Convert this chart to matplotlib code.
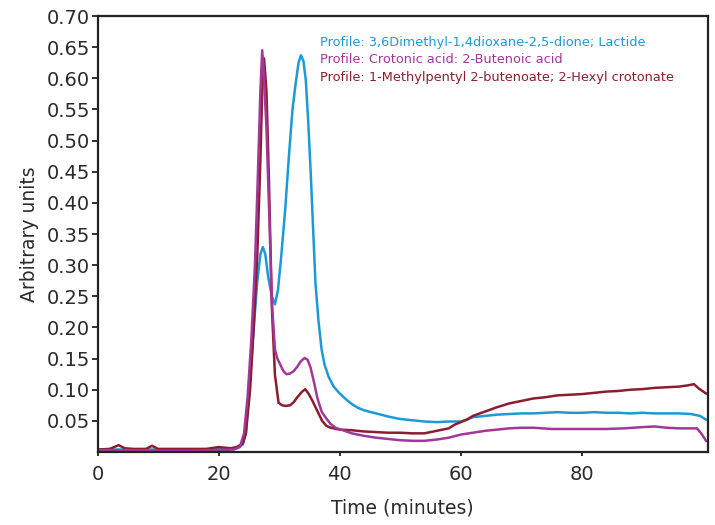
import matplotlib
matplotlib.use("Agg")
import matplotlib.pyplot as plt

plt.rcParams['font.family'] = ['DejaVu Sans']

# Lactide (blue)
t_lac = [0, 5, 10, 15, 20, 23, 24, 24.5, 25.2, 25.8, 26.4, 26.9, 27.3, 27.7, 28.2,
         28.8, 29.3, 29.8, 30.3, 31.0, 31.6, 32.2, 32.7, 33.2, 33.6, 34.0, 34.4, 34.8,
         35.2, 35.6, 36.0, 36.5, 37.0, 37.5, 38.2, 39.0, 40.0, 41.0, 42.0, 43.0, 44.0,
         46, 48, 50, 52, 54, 56, 58, 60, 61, 62, 64, 66, 68, 70, 72, 74, 76, 78, 80,
         82, 84, 86, 88, 90, 92, 94, 96, 98, 99.5, 100.5]
v_lac = [0.004, 0.004, 0.004, 0.004, 0.005, 0.006, 0.012, 0.03, 0.12, 0.2, 0.275,
         0.318, 0.329, 0.318, 0.28, 0.25, 0.237, 0.26, 0.31, 0.39, 0.474, 0.55, 0.59,
         0.625, 0.637, 0.628, 0.597, 0.53, 0.45, 0.36, 0.27, 0.21, 0.165, 0.14, 0.12,
         0.105, 0.094, 0.085, 0.077, 0.071, 0.067, 0.062, 0.057, 0.053, 0.051, 0.049,
         0.048, 0.049, 0.049, 0.052, 0.056, 0.058, 0.060, 0.061, 0.062, 0.062, 0.063,
         0.064, 0.063, 0.063, 0.064, 0.063, 0.063, 0.062, 0.063, 0.062, 0.062, 0.062,
         0.061, 0.058, 0.052]

# Crotonic acid (magenta)
t_cro = [0, 5, 10, 15, 20, 22.5, 23.5, 24.2, 24.8, 25.4, 26.0, 26.5, 26.9, 27.2, 27.5,
         27.9, 28.3, 28.8, 29.3, 29.7, 30.2, 30.7, 31.2, 31.8, 32.4, 33.0, 33.6, 34.2,
         34.7, 35.2, 35.8, 36.3, 37.0, 37.7, 38.5, 39.3, 40.5, 42, 44, 46, 48, 50, 52,
         54, 56, 58, 60, 62, 64, 66, 68, 70, 72, 75, 78, 81, 84, 87, 90, 92, 94, 96,
         98, 99, 99.7, 100.5]
v_cro = [0.003, 0.003, 0.002, 0.002, 0.003, 0.004, 0.008, 0.03, 0.09, 0.18, 0.30,
         0.45, 0.58, 0.645, 0.60, 0.52, 0.40, 0.24, 0.165, 0.15, 0.14, 0.13, 0.125,
         0.126, 0.13, 0.137, 0.146, 0.151, 0.148, 0.135, 0.11, 0.087, 0.065, 0.055,
         0.045, 0.039, 0.035, 0.030, 0.026, 0.023, 0.021, 0.019, 0.018, 0.018, 0.020,
         0.023, 0.028, 0.031, 0.034, 0.036, 0.038, 0.039, 0.039, 0.037, 0.037, 0.037,
         0.037, 0.038, 0.040, 0.041, 0.039, 0.038, 0.038, 0.038, 0.030, 0.018]

# Hexyl crotonate (dark red)
t_hex = [0, 2, 3.5, 4.5, 6, 8, 9, 10, 12, 15, 18, 20, 22, 23, 24, 24.5, 25.2, 25.8,
         26.4, 26.9, 27.2, 27.5, 27.9, 28.3, 28.8, 29.3, 29.9, 30.5, 31.1, 31.8, 32.4,
         33.0, 33.7, 34.3, 34.9, 35.5, 36.3, 37.1, 37.8, 38.5, 40, 42, 44, 46, 48, 50,
         52, 54, 56, 58, 59, 60, 61, 62, 64, 66, 68, 70, 72, 74, 76, 78, 80, 82, 84,
         86, 88, 90, 92, 94, 96, 97.5, 98.5, 99.3, 100.5]
v_hex = [0.004, 0.005, 0.011, 0.006, 0.005, 0.005, 0.010, 0.005, 0.005, 0.005, 0.005,
         0.008, 0.006, 0.008, 0.014, 0.03, 0.10, 0.20, 0.32, 0.47, 0.58, 0.632, 0.58,
         0.44, 0.23, 0.124, 0.079, 0.075, 0.074, 0.075, 0.080, 0.088, 0.096, 0.101,
         0.093, 0.082, 0.066, 0.050, 0.042, 0.039, 0.036, 0.035, 0.033, 0.032, 0.031,
         0.031, 0.030, 0.030, 0.034, 0.038, 0.044, 0.048, 0.052, 0.058, 0.065, 0.072,
         0.078, 0.082, 0.086, 0.088, 0.091, 0.092, 0.093, 0.095, 0.097, 0.098, 0.100,
         0.101, 0.103, 0.104, 0.105, 0.107, 0.109, 0.102, 0.094]

labels = ["Profile: 3,6Dimethyl-1,4dioxane-2,5-dione; Lactide",
          "Profile: Crotonic acid: 2-Butenoic acid",
          "Profile: 1-Methylpentyl 2-butenoate; 2-Hexyl crotonate"]
colors = ["#1c9ad6", "#a2379b", "#8c1d2e"]

fig = plt.figure(figsize=(7.15, 5.25), dpi=100)
ax = fig.add_axes([0.1364, 0.139, 0.8536, 0.8305])

ax.plot(t_lac, v_lac, color=colors[0], lw=1.8)
ax.plot(t_hex, v_hex, color=colors[2], lw=1.8)
ax.plot(t_cro, v_cro, color=colors[1], lw=1.8)

ax.set_xlim(0, 100.8)
ax.set_ylim(0, 0.70)
ax.set_xticks([0, 20, 40, 60, 80])
ax.set_yticks([0.05 * i for i in range(1, 15)])
ax.set_yticklabels(["%.2f" % (0.05 * i) for i in range(1, 15)])
ax.tick_params(labelsize=14, color="#222222", labelcolor="#2a2a2a", width=1.3)
ax.tick_params(axis='x', length=3, pad=6.5)
ax.tick_params(axis='y', length=4, pad=1.5)
for s in ax.spines.values():
    s.set_linewidth(1.6)
    s.set_color("#222222")

ax.set_xlabel("Time (minutes)", fontsize=13.5, color="#2a2a2a", labelpad=10)
ax.set_ylabel("Arbitrary units", fontsize=13.5, color="#2a2a2a", labelpad=5)

for i, (lab, c) in enumerate(zip(labels, colors)):
    ax.text(0.364, 0.94 - i * 0.04, lab, color=c, fontsize=9.3,
            transform=ax.transAxes, va="center", ha="left")

fig.savefig("out.png", dpi=100)
